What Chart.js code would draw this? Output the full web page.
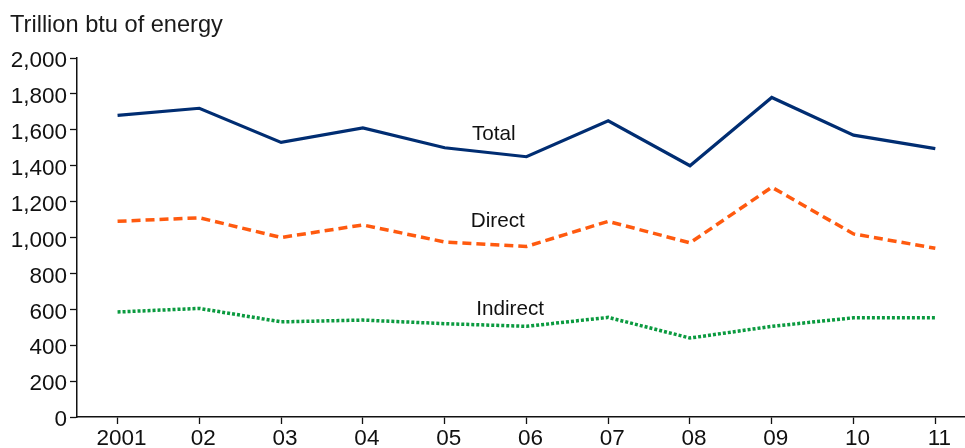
<!DOCTYPE html>
<html>
<head>
<meta charset="utf-8">
<script src="https://cdn.jsdelivr.net/npm/chart.js@4.4.0/dist/chart.umd.min.js"></script>
<style>
  html, body { margin: 0; padding: 0; background: #fff; }
  #wrap { width: 965px; height: 448px; position: relative; }
</style>
</head>
<body>
<div id="wrap"><canvas id="chart"></canvas></div>
<script>
/* ====================
   DATA
==================== */
const years = [2001, 2002, 2003, 2004, 2005, 2006, 2007, 2008, 2009, 2010, 2011];
const yearLabels = ["2001", "02", "03", "04", "05", "06", "07", "08", "09", "10", "11"];
const totalEnergy = [1680, 1720, 1530, 1610, 1500, 1450, 1650, 1400, 1780, 1570, 1495];
const directEnergy = [1090, 1110, 1000, 1070, 975, 950, 1090, 970, 1280, 1020, 940];
const indirectEnergy = [585, 605, 530, 540, 520, 505, 555, 440, 505, 553, 553];
const yTicks = [0, 200, 400, 600, 800, 1000, 1200, 1400, 1600, 1800, 2000];
const seriesNames = ["Total", "Direct", "Indirect"];

const FONT = "'Liberation Sans', Arial, Helvetica, sans-serif";

const toPoints = vals => vals.map((v, i) => ({ x: years[i], y: v }));

/* ====================
   PLUGINS
==================== */
// axis title in the top-left corner
const titlePlugin = {
  id: "cornerTitle",
  afterDraw(chart) {
    const ctx = chart.ctx;
    ctx.save();
    ctx.font = `23.6px ${FONT}`;
    ctx.fillStyle = "#1a1a1a";
    ctx.textAlign = "left";
    ctx.textBaseline = "alphabetic";
    ctx.fillText("Trillion btu of energy", 10, 32);
    ctx.restore();
  }
};

// series names placed on the plot in data units
const seriesLabelSpots = [
  { x: 2005.6, y: 1577 },
  { x: 2005.65, y: 1092 },
  { x: 2005.8, y: 599 }
];
const seriesLabelPlugin = {
  id: "seriesLabels",
  afterDatasetsDraw(chart) {
    const { ctx, scales } = chart;
    ctx.save();
    ctx.font = `20.7px ${FONT}`;
    ctx.fillStyle = "#111";
    ctx.textAlign = "center";
    ctx.textBaseline = "middle";
    seriesNames.forEach((name, i) => {
      const spot = seriesLabelSpots[i];
      ctx.fillText(name, scales.x.getPixelForValue(spot.x), scales.y.getPixelForValue(spot.y));
    });
    ctx.restore();
  }
};

/* ====================
   CHART
==================== */
new Chart(document.getElementById("chart"), {
  type: "line",
  data: {
    datasets: [
      {
        label: "Total",
        data: toPoints(totalEnergy),
        borderColor: "#002d72",
        borderWidth: 3.2,
        pointRadius: 0,
        tension: 0
      },
      {
        label: "Direct",
        data: toPoints(directEnergy),
        borderColor: "#ff5a0f",
        borderWidth: 3.5,
        borderDash: [9, 5],
        pointRadius: 0,
        tension: 0
      },
      {
        label: "Indirect",
        data: toPoints(indirectEnergy),
        borderColor: "#0a9a3f",
        borderWidth: 3.5,
        borderDash: [3, 2],
        pointRadius: 0,
        tension: 0
      }
    ]
  },
  options: {
    responsive: true,
    maintainAspectRatio: false,
    animation: false,
    events: [],
    layout: { padding: { top: 58, left: 0, right: 0, bottom: 0 } },
    plugins: {
      legend: { display: false },
      tooltip: { enabled: false }
    },
    scales: {
      x: {
        type: "linear",
        min: 2000.504,
        max: 2011.363,
        afterBuildTicks: scale => {
          scale.ticks = years.map(v => ({ value: v }));
        },
        afterFit: scale => { scale.height = 31; },
        ticks: {
          autoSkip: false,
          maxRotation: 0,
          padding: 1,
          labelOffset: 4,
          color: "#111",
          font: { family: FONT, size: 22.5 },
          callback: (v) => yearLabels[years.indexOf(v)]
        },
        grid: {
          drawOnChartArea: false,
          drawTicks: true,
          tickLength: 7,
          tickColor: "#111",
          tickWidth: 1.3
        },
        border: { display: true, color: "#111", width: 1.5 }
      },
      y: {
        min: 0,
        max: 2000,
        afterBuildTicks: scale => {
          scale.ticks = yTicks.map(v => ({ value: v }));
        },
        afterFit: scale => { scale.width = 77; },
        ticks: {
          padding: 3,
          labelOffset: 3,
          color: "#111",
          font: { family: FONT, size: 22.5 },
          callback: v => v.toLocaleString("en-US")
        },
        grid: {
          drawOnChartArea: false,
          drawTicks: true,
          tickLength: 7,
          tickColor: "#111",
          tickWidth: 1.3
        },
        border: { display: true, color: "#111", width: 1.5 }
      }
    }
  },
  plugins: [titlePlugin, seriesLabelPlugin]
});
</script>
</body>
</html>
